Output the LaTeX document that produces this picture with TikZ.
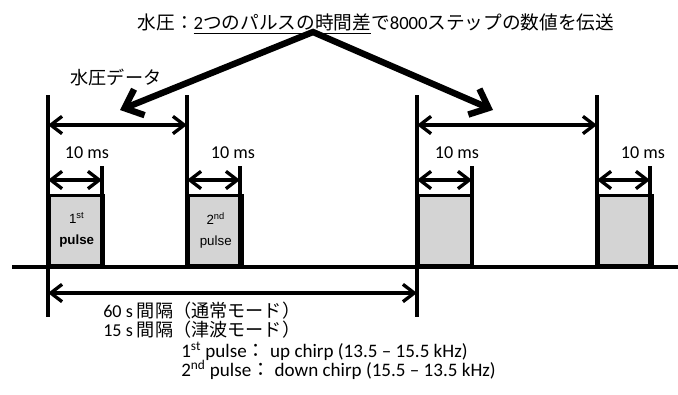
\documentclass[tikz,border=0pt]{standalone}
\usepackage{fontspec}
\setmainfont{Carlito}
\newfontfamily\cjk{Noto Sans CJK JP}
\newfontfamily\arial{Liberation Sans}
\usetikzlibrary{arrows.meta}
\begin{document}
\begin{tikzpicture}[x=0.75pt,y=-0.75pt,
  thk/.style={line width=2.6pt},
  dim/.style={line width=2.5pt,{Straight Barb[length=8.5pt,width=13pt]}-{Straight Barb[length=8.5pt,width=13pt]}},
  big/.style={line width=4.8pt,line join=miter,{Straight Barb[length=12pt,width=21pt]}-{Straight Barb[length=12pt,width=21pt]}},
  pulsebox/.style={draw,line width=2.6pt,fill=black!17,minimum width=40.5pt,minimum height=52.5pt,anchor=south west,inner sep=0pt,align=center,font=\arial\fontsize{10}{16}\selectfont},
  lbl/.style={font=\fontsize{13.6}{15}\selectfont,inner sep=0pt},
  lblb/.style={font=\fontsize{14.3}{15}\selectfont,inner sep=0pt},
  ttl/.style={font=\fontsize{14}{16}\selectfont,inner sep=0pt},
]
\useasboundingbox (0,0) rectangle (678,394);
% pulse boxes
\node[pulsebox] (b1) at (48,267) {1\textsuperscript{st}\\\bfseries pulse};
\node[pulsebox] (b2) at (187,267) {2\textsuperscript{nd}\\pulse};
\node[pulsebox] (b3) at (417,267) {};
\node[pulsebox] (b4) at (597,267) {};
% coordinates
\coordinate (v1t) at (48,95);  \coordinate (v1b) at (48,317);
\coordinate (v2t) at (187,95); \coordinate (v2b) at (187,267);
\coordinate (v3t) at (417,95); \coordinate (v3b) at (417,317);
\coordinate (v4t) at (597,95); \coordinate (v4b) at (597,267);
\coordinate (s1t) at (102,166); \coordinate (s1b) at (102,267);
\coordinate (s2t) at (240,166); \coordinate (s2b) at (240,267);
\coordinate (s3t) at (472,166); \coordinate (s3b) at (472,267);
\coordinate (s4t) at (650,166); \coordinate (s4b) at (650,267);
\coordinate (bl) at (12,267); \coordinate (br) at (678,267);
% lines
\draw[thk] (v1t) -- (v1b);
\draw[thk] (v2t) -- (v2b);
\draw[thk] (v3t) -- (v3b);
\draw[thk] (v4t) -- (v4b);
\draw[thk] (s1t) -- (s1b);
\draw[thk] (s2t) -- (s2b);
\draw[thk] (s3t) -- (s3b);
\draw[thk] (s4t) -- (s4b);
\draw[thk] (bl) -- (br);
% dimension arrows
\draw[dim] (48,125) -- (187,125);
\draw[dim] (417,125) -- (597,125);
\draw[dim] (48,180) -- (102,180);
\draw[dim] (187,180) -- (240,180);
\draw[dim] (417,180) -- (472,180);
\draw[dim] (597,180) -- (650,180);
\draw[dim] (48,293) -- (417,293);
% labels
\node[lbl] (m1) at (87,153) {10 ms};
\node[lbl] (m2) at (233,153) {10 ms};
\node[lbl] (m3) at (457,153) {10 ms};
\node[lbl] (m4) at (643,153) {10 ms};
\node[lbl] (wd) at (116,78) {\cjk 水圧データ};
\node[ttl] (title) at (376,24) {{\cjk 水圧：}\underline{2{\cjk つのパルスの時間差}}{\cjk で}8000{\cjk ステップの数値を伝送}};
% big arrows
\coordinate (apex) at (313,32);
\coordinate (la) at (120,110);
\coordinate (ra) at (493,110);
\draw[big] (la) -- (apex) -- (ra);
% bottom text
\node[lbl,anchor=west] (t60) at (103,311) {60 s {\cjk 間隔（通常モード）}};
\node[lbl,anchor=west] (t15) at (103,330) {15 s {\cjk 間隔（津波モード）}};
\node[lblb,anchor=west] (p1) at (181,351) {1\textsuperscript{st} pulse{\cjk ：} up chirp (13.5 – 15.5 kHz)};
\node[lblb,anchor=west] (p2) at (181,370) {2\textsuperscript{nd} pulse{\cjk ：} down chirp (15.5 – 13.5 kHz)};
\end{tikzpicture}
\end{document}
